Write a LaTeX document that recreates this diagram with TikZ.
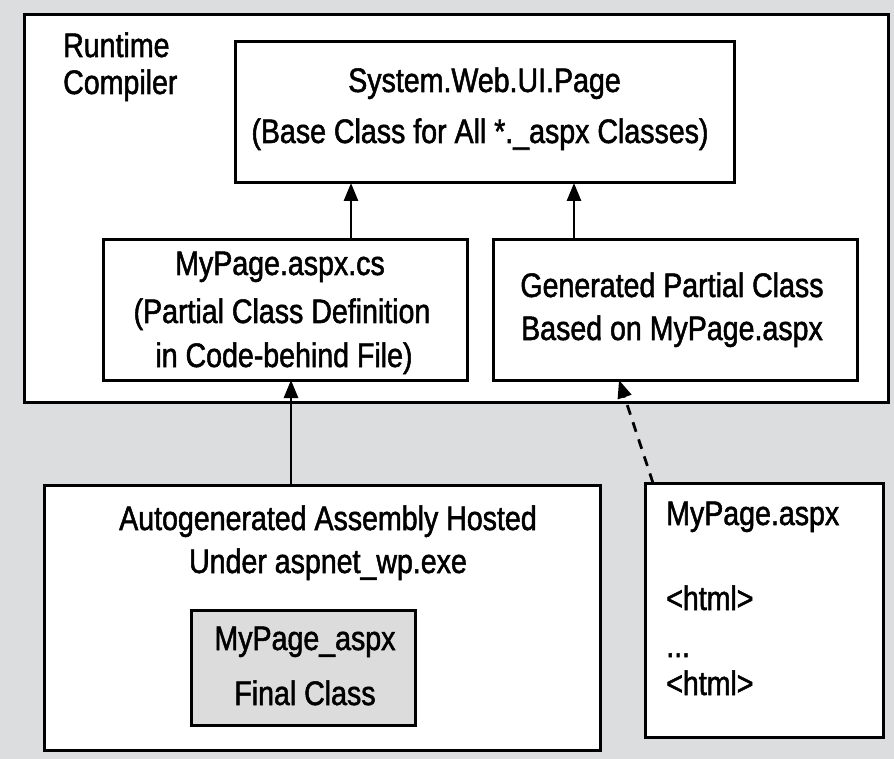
\documentclass[tikz,border=0pt]{standalone}
\usepackage{fontspec}
\setmainfont{Liberation Sans}[FakeStretch=0.84,FakeBold=1.5]
\usetikzlibrary{arrows.meta}
\definecolor{bggray}{HTML}{DCDDDF}
\definecolor{innergray}{HTML}{DCDCDC}
\begin{document}
\begin{tikzpicture}[x=1pt,y=-1pt,
  box/.style={draw=black,line width=3pt,fill=white,inner sep=0pt,outer sep=0pt},
  txt/.style={anchor=base,inner sep=0pt,font=\fontsize{34}{39}\selectfont},
  ltxt/.style={txt,anchor=base west},
  arr/.style={line width=2.8pt,-{Triangle[length=18pt,width=14pt]}},
  darr/.style={arr,dash pattern=on 10pt off 8pt}]
\fill[bggray] (0,0) rectangle (894,759);
\useasboundingbox (0,0) rectangle (894,759);
% boxes
\node[box,minimum width=864pt,minimum height=387pt] (outer) at (456,208.5) {};
\node[box,minimum width=499pt,minimum height=141pt] (sys) at (484.5,112.5) {};
\node[box,minimum width=364pt,minimum height=140pt] (mpcs) at (285,310) {};
\node[box,minimum width=364pt,minimum height=140pt] (gen) at (675,310) {};
\node[box,minimum width=556pt,minimum height=265pt] (auto) at (322,617.5) {};
\node[box,fill=innergray,minimum width=224pt,minimum height=115pt] (final) at (303,667.5) {};
\node[box,minimum width=238pt,minimum height=254pt] (aspx) at (764,610) {};
% texts
\node[ltxt] (rt1) at (63,57) {Runtime};
\node[ltxt] (rt2) at (63,94) {Compiler};
\node[txt] (s1) at (484.5,92) {System.Web.UI.Page};
\node[txt] (s2) at (480,143) {(Base Class for All *.\_aspx Classes)};
\node[txt] (m1) at (280,275) {MyPage.aspx.cs};
\node[txt] (m2) at (282,323) {(Partial Class Definition};
\node[txt] (m3) at (284,367) {in Code-behind File)};
\node[txt] (g1) at (672,297) {Generated Partial Class};
\node[txt] (g2) at (672,340) {Based on MyPage.aspx};
\node[txt] (a1) at (328,530) {Autogenerated Assembly Hosted};
\node[txt] (a2) at (328,573) {Under aspnet\_wp.exe};
\node[txt] (f1) at (305,650) {MyPage\_aspx};
\node[txt] (f2) at (305,705) {Final Class};
\node[ltxt] (x1) at (666,525) {MyPage.aspx};
\node[ltxt] (x2) at (666,610) {<html>};
\node[ltxt] (x3) at (666,657) {...};
\node[ltxt] (x4) at (666,695) {<html>};
% connectors
\draw[arr] ([xshift=66pt]mpcs.north) -- ([xshift=-133.5pt]sys.south);
\draw[arr] ([xshift=-101pt]gen.north) -- ([xshift=89.5pt]sys.south);
\draw[arr] ([xshift=-31pt]auto.north) -- ([xshift=6pt]mpcs.south);
\draw[darr] ([xshift=-111pt]aspx.north) -- ([xshift=-56pt]gen.south);
\end{tikzpicture}
\end{document}
